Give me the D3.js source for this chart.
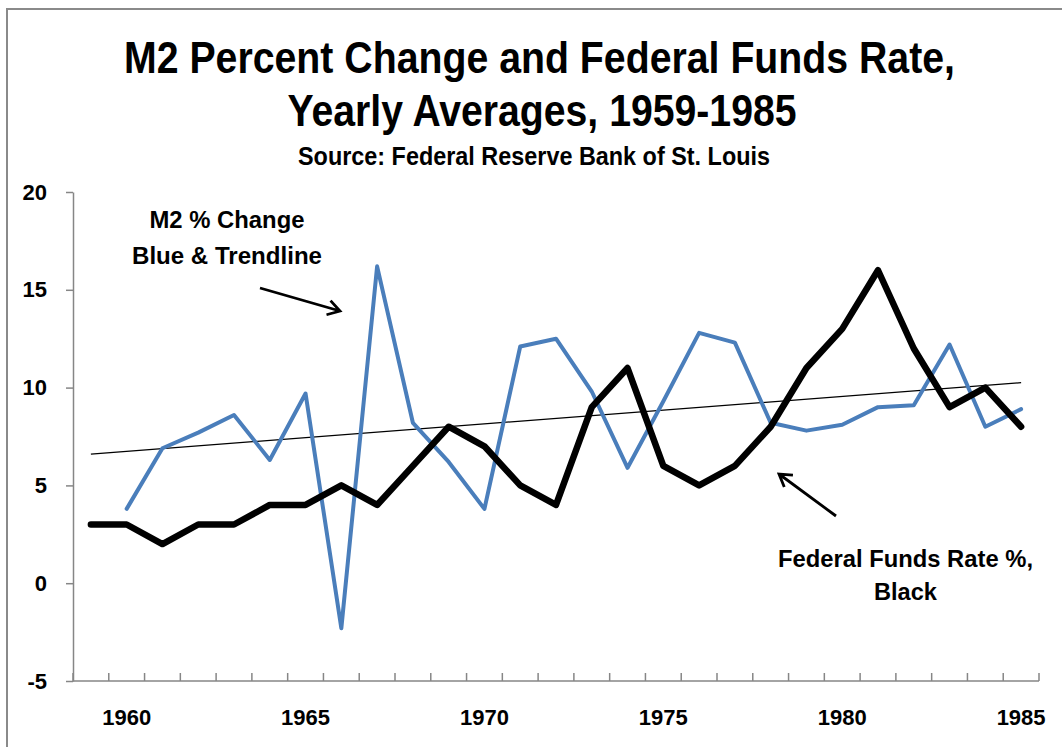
<!DOCTYPE html>
<html>
<head>
<meta charset="utf-8">
<script src="https://cdn.jsdelivr.net/npm/d3@7"></script>
<style>
  html, body { margin: 0; padding: 0; background: #fff; }
  svg { display: block; }
  .narrow { font-family: "Liberation Sans Narrow", "Arial Narrow", "Liberation Sans", Arial, sans-serif; font-weight: bold; }
  .axis text { font-family: "Liberation Sans", Arial, sans-serif; font-weight: bold; font-size: 22px; fill: #000; }
</style>
</head>
<body>
<svg id="chart" width="1062" height="747"></svg>
<script>
// ---- Data ----
const years = [1959, 1960, 1961, 1962, 1963, 1964, 1965, 1966, 1967, 1968, 1969, 1970, 1971, 1972,
               1973, 1974, 1975, 1976, 1977, 1978, 1979, 1980, 1981, 1982, 1983, 1984, 1985];
const m2Change = [null, 3.8, 6.9, 7.7, 8.6, 6.3, 9.7, -2.3, 16.2, 8.2, 6.2, 3.8, 12.1, 12.5,
                  9.8, 5.9, 9.3, 12.8, 12.3, 8.2, 7.8, 8.1, 9.0, 9.1, 12.2, 8.0, 8.9];
const fedFunds = [3, 3, 2, 3, 3, 4, 4, 5, 4, 6, 8, 7, 5, 4,
                  9, 11, 6, 5, 6, 8, 11, 13, 16, 12, 9, 10, 8];
const trendYears = [1959, 1985];
const trendValues = [6.6, 10.25];
const yTicks = [-5, 0, 5, 10, 15, 20];
const xLabelYears = [1960, 1965, 1970, 1975, 1980, 1985];
const titleLines = ["M2 Percent Change and Federal Funds Rate,", "Yearly Averages, 1959-1985"];
const subtitle = "Source: Federal Reserve Bank of St. Louis";

// ---- Setup ----
const svg = d3.select("#chart");
const W = 1062, H = 747;
const plot = { left: 73, right: 1039, top: 192, bottom: 681 };

const x = d3.scaleBand().domain(years).range([plot.left, plot.right]).paddingInner(0).paddingOuter(0);
const cx = d => x(d) + x.bandwidth() / 2;
const y = d3.scaleLinear().domain([-5, 20]).range([plot.bottom, plot.top]);

// outer frame
svg.append("path")
  .attr("d", `M7,${H} L7,9 L${W},9`)
  .attr("fill", "none").attr("stroke", "#8a8a8a").attr("stroke-width", 2);

// helper: condensed bold text fitted to a given width
function ntext(g, x0, y0, size, len, str) {
  return g.append("text").attr("x", x0).attr("y", y0).attr("font-size", size)
    .attr("textLength", len).attr("lengthAdjust", "spacingAndGlyphs").text(str);
}

// titles
const tg = svg.append("g").attr("class", "narrow").attr("text-anchor", "middle");
ntext(tg, 539.5, 73, 44, 831, titleLines[0]);
ntext(tg, 542, 126, 44, 509, titleLines[1]);
ntext(tg, 534, 165, 25, 472, subtitle);

// y axis
const yAxis = svg.append("g").attr("class", "axis")
  .attr("transform", `translate(${plot.left},0)`)
  .call(d3.axisLeft(y).tickValues(yTicks).tickSize(7).tickPadding(19).tickSizeOuter(0)
    .tickFormat(d => String(d)));
yAxis.selectAll("path, line").attr("stroke", "#868686").attr("stroke-width", 1.5);

// x axis: tick marks at category boundaries (inward), labels every 5 years
const boundaries = years.map(d => x(d)).concat([x(years[years.length - 1]) + x.bandwidth()]);
const xg = svg.append("g").attr("class", "axis");
xg.append("line")
  .attr("x1", plot.left).attr("x2", plot.right)
  .attr("y1", y(-5)).attr("y2", y(-5))
  .attr("stroke", "#868686").attr("stroke-width", 1.5);
xg.selectAll("line.tick").data(boundaries).enter().append("line")
  .attr("class", "tick")
  .attr("x1", d => d).attr("x2", d => d)
  .attr("y1", y(-5)).attr("y2", y(-5) - 8)
  .attr("stroke", "#868686").attr("stroke-width", 1.5);
xg.selectAll("text").data(xLabelYears).enter().append("text")
  .attr("x", d => cx(d)).attr("y", y(-5) + 44)
  .attr("text-anchor", "middle").text(d => d);

// trendline
svg.append("line")
  .attr("x1", cx(trendYears[0])).attr("y1", y(trendValues[0]))
  .attr("x2", cx(trendYears[1])).attr("y2", y(trendValues[1]))
  .attr("stroke", "#000").attr("stroke-width", 1.3);

// lines
const m2Data = years.map((yr, i) => ({ yr, v: m2Change[i] }));
const ffData = years.map((yr, i) => ({ yr, v: fedFunds[i] }));
const line = d3.line().defined(d => d.v !== null).x(d => cx(d.yr)).y(d => y(d.v));

svg.append("path").datum(m2Data).attr("d", line)
  .attr("fill", "none").attr("stroke", "#4a7ebb").attr("stroke-width", 4)
  .attr("stroke-linejoin", "round").attr("stroke-linecap", "round");
svg.append("path").datum(ffData).attr("d", line)
  .attr("fill", "none").attr("stroke", "#000").attr("stroke-width", 6.5)
  .attr("stroke-linejoin", "round").attr("stroke-linecap", "round");

// annotations
const ag = svg.append("g").attr("class", "narrow").attr("text-anchor", "middle");
ntext(ag, 227, 228, 24, 155, "M2 % Change");
ntext(ag, 227, 264, 24, 190, "Blue & Trendline");
ntext(ag, 905.5, 567, 24, 255, "Federal Funds Rate %,");
ntext(ag, 905.5, 600, 24, 63, "Black");

function arrow(x1, y1, x2, y2) {
  const ang = Math.atan2(y2 - y1, x2 - x1);
  const L = 14, a = 0.55;
  const p1 = [x2 - L * Math.cos(ang - a), y2 - L * Math.sin(ang - a)];
  const p2 = [x2 - L * Math.cos(ang + a), y2 - L * Math.sin(ang + a)];
  svg.append("path")
    .attr("d", `M${x1},${y1} L${x2},${y2} M${p1[0]},${p1[1]} L${x2},${y2} L${p2[0]},${p2[1]}`)
    .attr("fill", "none").attr("stroke", "#000").attr("stroke-width", 2.8)
    .attr("stroke-linejoin", "miter");
}
arrow(260, 288, 340, 311);
arrow(836, 516, 779, 474);
</script>
</body>
</html>
